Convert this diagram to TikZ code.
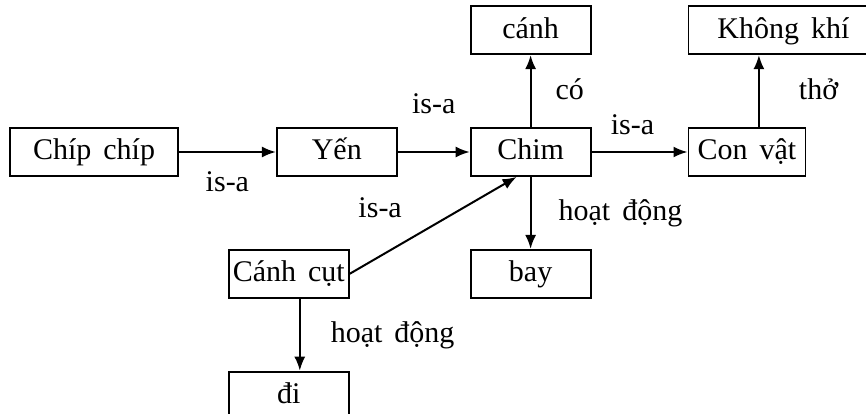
\documentclass[tikz,border=0pt]{standalone}
\usepackage{fontspec}
\setmainfont{Liberation Serif}[WordSpace=1.6]
\usetikzlibrary{arrows.meta,positioning}

\begin{document}
\begin{tikzpicture}[node distance=72pt, >={Latex[length=14pt,width=11pt]},
  every node/.style={font=\fontsize{30}{35}\selectfont, text height=22pt, text depth=6pt},
  concept/.style={draw, line width=1.8pt, minimum width=120pt, minimum height=48pt, inner sep=2pt},
  rel/.style={inner sep=0pt},
  link/.style={->, line width=2pt}]
  \useasboundingbox (0,0) rectangle (866pt,-414pt);
  % concepts
  \node[concept,minimum width=168pt] (chip) at (94pt,-152pt) {Chíp chíp};
  \node[concept,right=97pt of chip] (yen) {Yến};
  \node[concept,right=of yen] (chim) {Chim};
  \node[concept,minimum width=117pt,right=96pt of chim] (convat) {Con vật};
  \node[concept,above=of chim] (canh) {cánh};
  \node[concept,minimum width=190pt,above=of convat.north west,anchor=south west] (khongkhi) {Không khí};
  \node[concept,below=of chim] (bay) {bay};
  \node[concept,left=120pt of bay] (canhcut) {Cánh cụt};
  \node[concept,below=of canhcut] (di) {đi};
  % relations
  \draw[link] (chip) -- node[rel,below=16pt] (isa1) {is-a} (yen);
  \draw[link] (yen) -- node[rel,above=31pt] (isa2) {is-a} (chim);
  \draw[link] (chim) -- node[rel,above=10pt,xshift=-7pt] (isa3) {is-a} (convat);
  \draw[link] (chim) -- node[rel,right=24pt] (co) {có} (canh);
  \draw[link] ([xshift=12pt]convat.north) -- node[rel,right=39pt] (tho) {thở} ([xshift=12pt]convat.north |- khongkhi.south);
  \draw[link] (chim) -- node[rel,right=27pt] (hd1) {hoạt động} (bay);
  \draw[link] (canhcut.east) -- node[rel,xshift=-53pt,yshift=16pt] (isa4) {is-a} ([xshift=-14pt]chim.south);
  \draw[link] ([xshift=11pt]canhcut.south) -- node[rel,right=30pt] (hd2) {hoạt động} ([xshift=11pt]di.north);
\end{tikzpicture}
\end{document}
